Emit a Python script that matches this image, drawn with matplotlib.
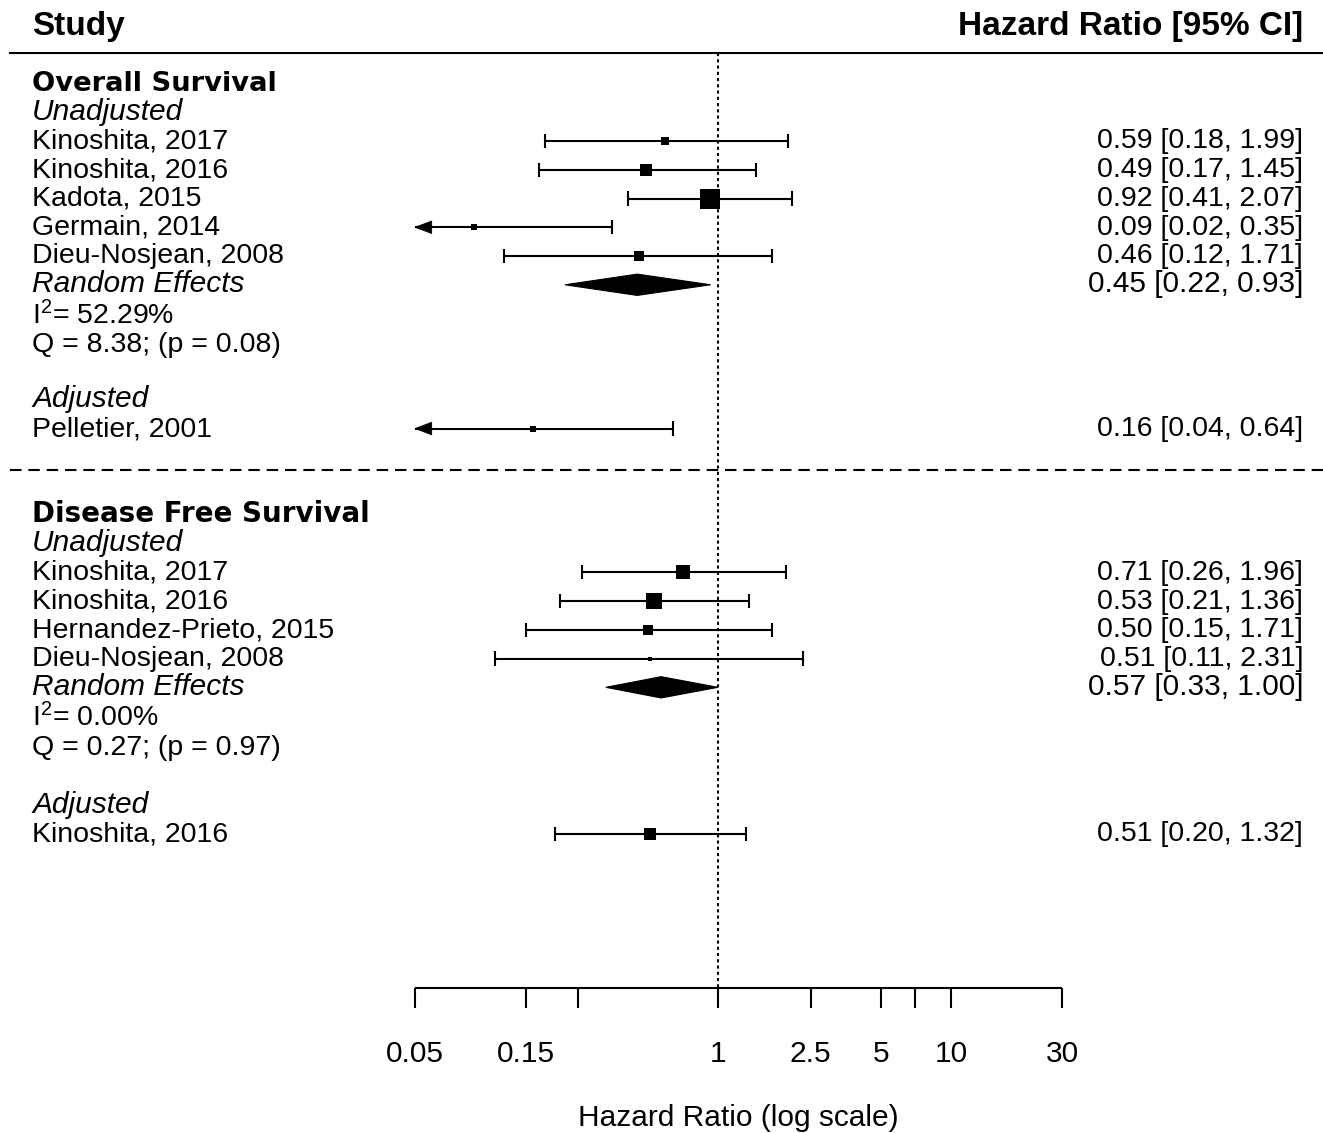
import matplotlib
matplotlib.use("Agg")
from matplotlib import pyplot as plt
from matplotlib.patches import Polygon
import matplotlib.transforms as mtransforms

plt.rcParams['font.family'] = ['Liberation Sans', 'DejaVu Sans']
plt.rcParams['mathtext.fontset'] = 'custom'
plt.rcParams['mathtext.rm'] = 'Liberation Sans'
plt.rcParams['mathtext.it'] = 'Liberation Sans:italic'

# Overall survival, unadjusted
os_studies = ["Kinoshita, 2017", "Kinoshita, 2016", "Kadota, 2015",
              "Germain, 2014", "Dieu-Nosjean, 2008"]
os_hr = [0.59, 0.49, 0.92, 0.09, 0.46]
os_lo = [0.18, 0.17, 0.41, 0.02, 0.12]
os_hi = [1.99, 1.45, 2.07, 0.35, 1.71]
os_re = [0.45, 0.22, 0.93]
os_i2 = 52.29
os_q, os_p = 8.38, 0.08

# Overall survival, adjusted
os_adj_studies = ["Pelletier, 2001"]
os_adj_hr = [0.16]
os_adj_lo = [0.04]
os_adj_hi = [0.64]

# Disease free survival, unadjusted
dfs_studies = ["Kinoshita, 2017", "Kinoshita, 2016",
               "Hernandez-Prieto, 2015", "Dieu-Nosjean, 2008"]
dfs_hr = [0.71, 0.53, 0.50, 0.51]
dfs_lo = [0.26, 0.21, 0.15, 0.11]
dfs_hi = [1.96, 1.36, 1.71, 2.31]
dfs_re = [0.57, 0.33, 1.00]
dfs_i2 = 0.00
dfs_q, dfs_p = 0.27, 0.97

# Disease free survival, adjusted
dfs_adj_studies = ["Kinoshita, 2016"]
dfs_adj_hr = [0.51]
dfs_adj_lo = [0.20]
dfs_adj_hi = [1.32]

# box sizes (points), proportional to study weight
os_box = [6.2, 8.3, 14.0, 4.6, 6.8]
os_adj_box = [4.4]
dfs_box = [9.6, 11.0, 6.8, 3.0]
dfs_adj_box = [9.0]

axis_at = [0.05, 0.15, 0.25, 1, 2.5, 5, 7, 10, 30]
axis_labels = ["0.05", "0.15", "", "1", "2.5", "5", "", "10", "30"]
alim = (0.05, 30)

FS = 20.5
FS_IT = 21.5
LW = 1.5
BASE = 0.26  # baseline offset below row centre

fig = plt.figure(figsize=(13.23, 11.33), dpi=100)
ax = fig.add_axes([0, 0, 1, 1])
ax.set_xscale('log')
ax.set_xlim(10 ** (-718 / 232.9), 10 ** (605 / 232.9))
ax.set_ylim(34.5, -4.904)
ax.axis('off')

trans = mtransforms.blended_transform_factory(ax.transAxes, ax.transData)
XL = 32 / 1323
XR = 1303 / 1323


def left_text(y, s, **kw):
    ax.text(XL, y + BASE, s, transform=trans, ha='left', va='baseline',
            fontsize=kw.pop('fontsize', FS), **kw)


def right_text(y, s, **kw):
    ax.text(XR, y + BASE, s, transform=trans, ha='right', va='baseline',
            fontsize=kw.pop('fontsize', FS), **kw)


def draw_study(y, est, lo, hi, box):
    lo_c = max(lo, alim[0])
    ax.hlines(y, lo_c, hi, color='black', lw=LW)
    if lo < alim[0]:
        arrow = Polygon([(alim[0], y), (alim[0] * 1.18, y - 0.22),
                         (alim[0] * 1.18, y + 0.22)], closed=True,
                        facecolor='black', edgecolor='black', lw=0.5)
        ax.add_patch(arrow)
    else:
        ax.vlines(lo, y - 0.25, y + 0.25, color='black', lw=LW)
    ax.vlines(hi, y - 0.25, y + 0.25, color='black', lw=LW)
    ax.plot(est, y, marker='s', markersize=box, color='black',
            markeredgewidth=0)


def draw_diamond(y, est, lo, hi):
    d = Polygon([(lo, y), (est, y - 0.37), (hi, y), (est, y + 0.37)],
                closed=True, facecolor='black', edgecolor='black', lw=0.8)
    ax.add_patch(d)


def fmt(est, lo, hi):
    return "%.2f [%.2f, %.2f]" % (est, lo, hi)


# header
left_text(-3.96, "Study", fontweight='bold', fontsize=24)
right_text(-3.96, "Hazard Ratio [95% CI]", fontweight='bold', fontsize=24)
ax.axhline(-3.06, xmin=10 / 1323, xmax=1, color='black', lw=LW)
ax.vlines(1, -3.06, 29.46, color='black', lw=LW, linestyles=(0, (1.5, 1.5)))

# Overall survival block
left_text(-2.0, "Overall Survival", family='DejaVu Sans', fontweight='bold',
          fontsize=19.7)
left_text(-1.0, "Unadjusted", style='italic', fontsize=FS_IT)
for i, name in enumerate(os_studies):
    left_text(i, name)
    draw_study(i, os_hr[i], os_lo[i], os_hi[i], os_box[i])
    right_text(i, fmt(os_hr[i], os_lo[i], os_hi[i]))
left_text(5, "Random Effects", style='italic', fontsize=FS_IT)
draw_diamond(5, *os_re)
right_text(5, fmt(*os_re), fontsize=21.5)
left_text(6.1, r"I$^{2}$= %.2f%%" % os_i2)
left_text(7.07, "Q = %.2f; (p = %.2f)" % (os_q, os_p))

left_text(9.0, "Adjusted", style='italic', fontsize=FS_IT)
for i, name in enumerate(os_adj_studies):
    y = 10.0 + i
    left_text(y, name)
    draw_study(y, os_adj_hr[i], os_adj_lo[i], os_adj_hi[i], os_adj_box[i])
    right_text(y, fmt(os_adj_hr[i], os_adj_lo[i], os_adj_hi[i]))

ax.axhline(11.45, xmin=10 / 1323, xmax=1, color='black', lw=LW,
           linestyle=(0, (5.5, 3.3)))

# Disease free survival block
left_text(13.0, "Disease Free Survival", family='DejaVu Sans',
          fontweight='bold', fontsize=20)
left_text(14.0, "Unadjusted", style='italic', fontsize=FS_IT)
for i, name in enumerate(dfs_studies):
    y = 15 + i
    left_text(y, name)
    draw_study(y, dfs_hr[i], dfs_lo[i], dfs_hi[i], dfs_box[i])
    right_text(y, fmt(dfs_hr[i], dfs_lo[i], dfs_hi[i]))
left_text(19, "Random Effects", style='italic', fontsize=FS_IT)
draw_diamond(19, *dfs_re)
right_text(19, fmt(*dfs_re), fontsize=21.5)
left_text(20.1, r"I$^{2}$= %.2f%%" % dfs_i2)
left_text(21.1, "Q = %.2f; (p = %.2f)" % (dfs_q, dfs_p))

left_text(23.1, "Adjusted", style='italic', fontsize=FS_IT)
for i, name in enumerate(dfs_adj_studies):
    y = 24.1 + i
    left_text(y, name)
    draw_study(y, dfs_adj_hr[i], dfs_adj_lo[i], dfs_adj_hi[i], dfs_adj_box[i])
    right_text(y, fmt(dfs_adj_hr[i], dfs_adj_lo[i], dfs_adj_hi[i]))

# x axis
ax.hlines(29.46, alim[0], alim[1], color='black', lw=LW)
ax.vlines(axis_at, 29.46, 30.16, color='black', lw=LW)
for v, lab in zip(axis_at, axis_labels):
    ax.text(v, 32.03, lab, ha='center', va='baseline', fontsize=21.5)
ax.text((alim[0] * alim[1]) ** 0.5, 34.25, "Hazard Ratio (log scale)",
        ha='center', va='baseline', fontsize=21.5)

fig.savefig("out.png", dpi=100, facecolor='white')
